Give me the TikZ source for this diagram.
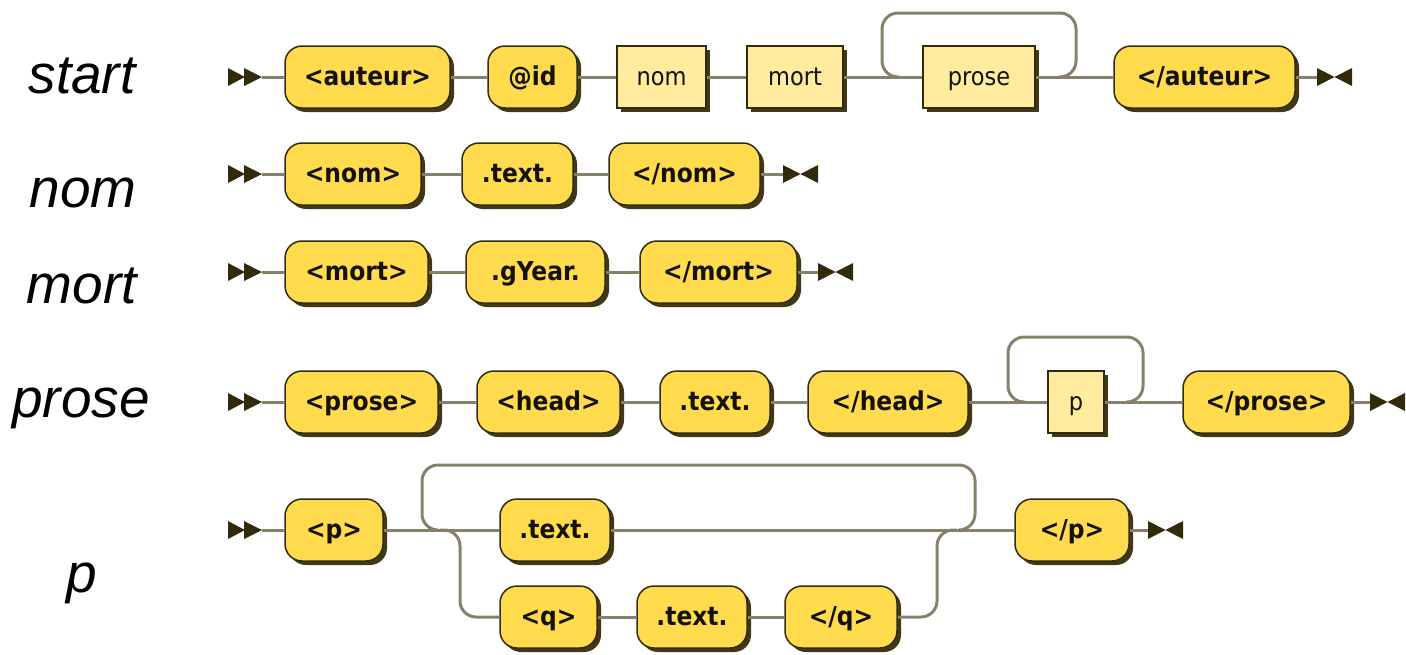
\documentclass[tikz,border=0pt]{standalone}
\usepackage{fontspec}
\setmainfont{Liberation Sans}
\newfontfamily\nfont{DejaVu Sans Condensed}
\usetikzlibrary{shadows}
\definecolor{gold}{RGB}{255,219,77}
\definecolor{lite}{RGB}{255,236,158}
\definecolor{edge}{RGB}{50,43,15}
\definecolor{shc}{RGB}{65,56,22}
\definecolor{railc}{RGB}{135,129,108}
\definecolor{mkc}{RGB}{50,42,10}
\definecolor{txt}{RGB}{20,18,8}
\begin{document}
\begin{tikzpicture}[x=1pt,y=-1pt,
 box/.style={draw=edge, line width=1.5pt, minimum height=62pt, inner sep=0pt, text=txt,
   text height=20pt, text depth=4pt,
   drop shadow={shadow xshift=4pt,shadow yshift=-4pt,fill=shc,opacity=1}},
 term/.style={box, fill=gold, rounded corners=17pt, font=\nfont\bfseries\fontsize{26}{30}\selectfont},
 nterm/.style={box, fill=lite, font=\nfont\fontsize{25}{30}\selectfont},
 rail/.style={draw=railc, line width=3pt},
 loopr/.style={rail, rounded corners=16pt},
 lab/.style={font=\itshape\fontsize{55}{60}\selectfont, anchor=base},
 mk/.style={fill=mkc},
 startmk/.pic={\fill[mk] (-34,-9) -- (-17,0) -- (-34,9) -- cycle (-18,-9) -- (0,0) -- (-18,9) -- cycle;},
 endmk/.pic={\fill[mk] (0,-9) -- (17.5,0) -- (0,9) -- cycle (35,-9) -- (17.5,0) -- (35,9) -- cycle;}]
\useasboundingbox (0,0) rectangle (1406,654);

% labels
\node[lab] (lstart) at (82,93) {start};
\node[lab] (lnom) at (83,207) {nom};
\node[lab] (lmort) at (82,303) {mort};
\node[lab] (lprose) at (81,417) {prose};
\node[lab] (lp) at (82,592) {p};

% ---------- row 1 ----------
\coordinate (s1) at (262,77);
\coordinate (t1) at (1317,77);
\node[term, minimum width=165pt] (a1) at (367.5,77) {<auteur>};
\node[term, minimum width=89pt] (a2) at (532.5,77) {@id};
\node[nterm, minimum width=89pt] (a3) at (661.5,77) {nom};
\node[nterm, minimum width=96pt] (a4) at (795,77) {mort};
\node[nterm, minimum width=112pt] (a5) at (979,77) {prose};
\node[term, minimum width=181pt] (a6) at (1204.5,77) {</auteur>};
\coordinate (la1) at (900,77);
\coordinate (la2) at (882,77);
\coordinate (la3) at (882,13);
\coordinate (la4) at (1076,13);
\coordinate (la5) at (1076,77);
\coordinate (la6) at (1058,77);

% ---------- row 2 ----------
\coordinate (s2) at (262,174);
\coordinate (t2) at (783,174);
\node[term, minimum width=136pt] (b1) at (353,174) {<nom>};
\node[term, minimum width=111pt] (b2) at (517.5,174) {.text.};
\node[term, minimum width=151pt] (b3) at (684.5,174) {</nom>};

% ---------- row 3 ----------
\coordinate (s3) at (262,272);
\coordinate (t3) at (818,272);
\node[term, minimum width=143pt] (c1) at (356.5,272) {<mort>};
\node[term, minimum width=139pt] (c2) at (535.5,272) {.gYear.};
\node[term, minimum width=157pt] (c3) at (718.5,272) {</mort>};

% ---------- row 4 ----------
\coordinate (s4) at (262,402);
\coordinate (t4) at (1370,402);
\node[term, minimum width=153pt] (d1) at (361.5,402) {<prose>};
\node[term, minimum width=143pt] (d2) at (548.5,402) {<head>};
\node[term, minimum width=110pt] (d3) at (715,402) {.text.};
\node[term, minimum width=160pt] (d4) at (888,402) {</head>};
\node[nterm, minimum width=56pt] (d5) at (1076,402) {p};
\node[term, minimum width=167pt] (d6) at (1266.5,402) {</prose>};
\coordinate (ld1) at (1025,402);
\coordinate (ld2) at (1008,402);
\coordinate (ld3) at (1008,337);
\coordinate (ld4) at (1143,337);
\coordinate (ld5) at (1143,402);
\coordinate (ld6) at (1126,402);

% ---------- row 5 ----------
\coordinate (s5) at (262,530);
\coordinate (t5) at (1148,530);
\node[term, minimum width=98pt] (e1) at (334,530) {<p>};
\node[term, minimum width=110pt] (e2) at (555,530) {.text.};
\node[term, minimum width=97pt] (e3) at (548.5,617) {<q>};
\node[term, minimum width=110pt] (e4) at (692,617) {.text.};
\node[term, minimum width=112pt] (e5) at (841,617) {</q>};
\node[term, minimum width=114pt] (e6) at (1072,530) {</p>};
\coordinate (le1) at (437,530);
\coordinate (le2) at (422,530);
\coordinate (le3) at (422,465);
\coordinate (le4) at (975,465);
\coordinate (le5) at (975,530);
\coordinate (le6) at (960,530);
\coordinate (lb1) at (440,530);
\coordinate (lb2) at (460,530);
\coordinate (lb3) at (460,617);
\coordinate (rb1) at (937,617);
\coordinate (rb2) at (937,530);
\coordinate (rb3) at (957,530);

% ---------- connectors ----------
\draw[rail] (s1) -- (a1.west) (a1.east) -- (a2.west) (a2.east) -- (a3.west)
  (a3.east) -- (a4.west) (a4.east) -- (a5.west) (a5.east) -- (a6.west) (a6.east) -- (t1);
\draw[loopr] (la1) -- (la2) -- (la3) -- (la4) -- (la5) -- (la6);

\draw[rail] (s2) -- (b1.west) (b1.east) -- (b2.west) (b2.east) -- (b3.west) (b3.east) -- (t2);
\draw[rail] (s3) -- (c1.west) (c1.east) -- (c2.west) (c2.east) -- (c3.west) (c3.east) -- (t3);

\draw[rail] (s4) -- (d1.west) (d1.east) -- (d2.west) (d2.east) -- (d3.west) (d3.east) -- (d4.west)
  (d4.east) -- (d5.west) (d5.east) -- (d6.west) (d6.east) -- (t4);
\draw[loopr] (ld1) -- (ld2) -- (ld3) -- (ld4) -- (ld5) -- (ld6);

\draw[rail] (s5) -- (e1.west) (e1.east) -- (e2.west) (e2.east) -- (e6.west)
  (e3.east) -- (e4.west) (e4.east) -- (e5.west) (e6.east) -- (t5);
\draw[loopr] (le1) -- (le2) -- (le3) -- (le4) -- (le5) -- (le6);
\draw[loopr] (lb1) -- (lb2) -- (lb3) -- (e3.west);
\draw[loopr] (e5.east) -- (rb1) -- (rb2) -- (rb3);

% markers
\pic at (s1) {startmk}; \pic at (t1) {endmk};
\pic at (s2) {startmk}; \pic at (t2) {endmk};
\pic at (s3) {startmk}; \pic at (t3) {endmk};
\pic at (s4) {startmk}; \pic at (t4) {endmk};
\pic at (s5) {startmk}; \pic at (t5) {endmk};
\end{tikzpicture}
\end{document}
